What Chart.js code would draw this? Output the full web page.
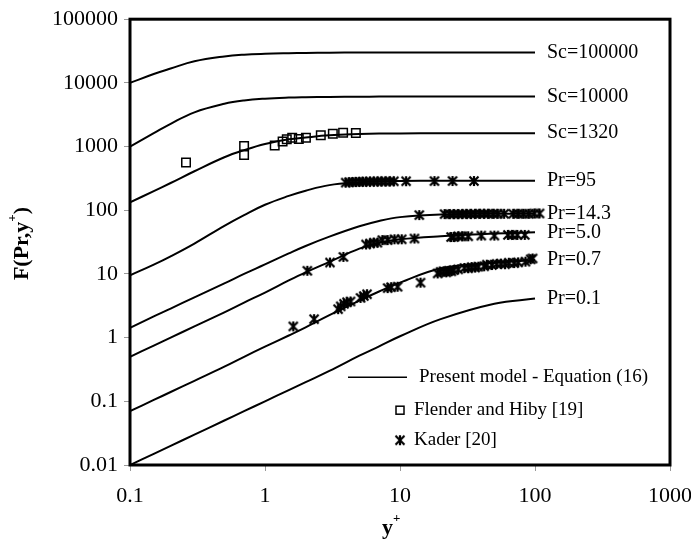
<!DOCTYPE html>
<html>
<head>
<meta charset="utf-8">
<script src="https://cdn.jsdelivr.net/npm/chart.js@4.4.1/dist/chart.umd.min.js"></script>
<style>
  body { margin: 0; background: #fff; }
  #wrap { width: 691px; height: 550px; }
</style>
</head>
<body>
<div id="wrap"><canvas id="fChart"></canvas></div>
<script>
// model curves at these y+ values
const modelX = [0.1, 0.15, 0.2, 0.3, 0.5, 0.7, 1, 1.5, 2, 3, 5, 7, 10, 20, 50, 100];
const curveLabels = ['Sc=100000', 'Sc=10000', 'Sc=1320', 'Pr=95', 'Pr=14.3', 'Pr=5.0', 'Pr=0.7', 'Pr=0.1'];
const sc100000 = [10000, 13800, 16800, 21800, 26000, 27700, 28600, 29200, 29500, 29800, 30000, 30000, 30000, 30000, 30000, 30000];
const sc10000 = [1000, 1620, 2280, 3450, 4700, 5300, 5650, 5870, 5950, 6020, 6070, 6090, 6100, 6100, 6100, 6100];
const sc1320 = [133, 200, 268, 410, 680, 880, 1100, 1300, 1390, 1500, 1570, 1600, 1610, 1620, 1620, 1620];
const pr95 = [9.5, 14, 18.9, 30, 57, 84, 122, 168, 203, 248, 275, 285, 288, 290, 290, 290];
const pr14 = [1.43, 2.15, 2.85, 4.3, 7.1, 10, 14.1, 21, 27.5, 38.5, 56, 68, 78, 86, 88, 88];
const pr5 = [0.5, 0.75, 1.0, 1.5, 2.5, 3.55, 5.1, 7.9, 10.6, 15.5, 25, 31, 35, 39, 43, 45];
const pr07 = [0.07, 0.105, 0.14, 0.21, 0.35, 0.5, 0.72, 1.08, 1.45, 2.25, 3.8, 5.3, 7.3, 12.2, 15, 16.5];
const pr01 = [0.01, 0.015, 0.02, 0.03, 0.05, 0.07, 0.1, 0.15, 0.2, 0.3, 0.52, 0.73, 1.05, 1.95, 3.4, 4.1];
const curveValues = [sc100000, sc10000, sc1320, pr95, pr14, pr5, pr07, pr01];

// Flender and Hiby [19]
const flenderX = [0.26, 0.70, 0.70, 1.18, 1.35, 1.45, 1.59, 1.78, 2.01, 2.59, 3.18, 3.79, 4.71];
const flenderY = [560, 1020, 740, 1040, 1200, 1300, 1380, 1320, 1380, 1510, 1590, 1650, 1630];

// Kader [20]
const kaderX = [
  3.96, 4.2, 4.45, 4.7, 5.0, 5.3, 5.6, 6.0, 6.4, 6.8, 7.3, 7.8, 8.4, 9.0, 11.1, 18, 24.5, 35.3,
  13.9, 21.4, 23.3, 25, 27, 29, 31, 33.5, 36, 39, 42, 45, 49, 53, 59, 69, 75, 82, 90, 99, 108,
  2.06, 3.03, 3.81, 5.6, 6.0, 6.4, 6.8, 7.4, 8.1, 9.1, 10.3, 12.8, 23.9, 25, 27, 29, 32, 40, 50, 63, 68, 74, 84,
  1.62, 2.31, 3.48, 3.64, 3.85, 4.05, 4.3, 5.1, 5.4, 5.7, 8.1, 8.6, 9.6, 14.2, 19, 20, 21, 22, 23, 24, 25,
  27, 30, 32, 34, 36, 38, 42, 44, 48, 52, 56, 60, 64, 70, 75, 85, 93, 96
];
const kaderY = [
  272, 275, 277, 278, 280, 280, 281, 282, 282, 283, 283, 284, 284, 285, 286, 287, 288, 288,
  84, 87, 87, 87, 87, 87, 88, 87, 88, 88, 88, 88, 88, 88, 88, 88, 88, 88, 88, 89, 89,
  11.2, 15.1, 18.5, 29, 30, 31, 31, 34, 34, 35, 35, 36, 38, 38, 39, 39, 39, 40, 40, 41, 41, 41, 41,
  1.5, 1.95, 2.8, 3.1, 3.4, 3.6, 3.7, 4.2, 4.5, 4.8, 6.0, 6.2, 6.3, 7.3, 10.2, 10.8, 11, 10.6, 11.2, 11, 11.5,
  11.8, 12.4, 12.3, 12.8, 12.6, 13, 13.2, 14, 13.8, 14.4, 14.5, 14.2, 15, 14.8, 15.2, 15.6, 17, 17.5
];

const xTicks = [0.1, 1, 10, 100, 1000];
const yTicks = [0.01, 0.1, 1, 10, 100, 1000, 10000, 100000];

const SERIF = "'Liberation Serif', 'Times New Roman', serif";

function makeStar(size) {
  const c = document.createElement('canvas');
  c.width = size;
  c.height = size;
  const g = c.getContext('2d');
  const a = 1.5, b = size - 1.5, m = size / 2;
  g.strokeStyle = '#000';
  g.lineWidth = 2.2;
  g.beginPath();
  g.moveTo(a, a); g.lineTo(b, b);
  g.moveTo(b, a); g.lineTo(a, b);
  g.moveTo(m, a - 0.5); g.lineTo(m, b + 0.5);
  g.stroke();
  return c;
}
const starMark = makeStar(12);

const curveSets = curveValues.map((vals, k) => ({
  label: curveLabels[k],
  isCurve: true,
  data: modelX.map((x, i) => ({ x: x, y: vals[i] })),
  showLine: true,
  borderColor: '#000',
  borderWidth: 2,
  pointRadius: 0,
  tension: 0.4
}));

const frameAndText = {
  id: 'frameAndText',
  afterDraw(chart) {
    const ctx = chart.ctx;
    const area = chart.chartArea;
    ctx.save();
    // frame
    ctx.strokeStyle = '#000';
    ctx.lineWidth = 3;
    ctx.strokeRect(area.left, area.top, area.right - area.left, area.bottom - area.top);

    // curve labels at the end of each line
    ctx.fillStyle = '#000';
    ctx.font = '20px ' + SERIF;
    ctx.textAlign = 'left';
    ctx.textBaseline = 'middle';
    chart.data.datasets.forEach((ds, i) => {
      if (!ds.isCurve) return;
      const pts = chart.getDatasetMeta(i).data;
      const last = pts[pts.length - 1];
      ctx.fillText(ds.label, last.x + 12, last.y);
    });

    // legend
    const lx = area.left + 218;
    ctx.font = '19px ' + SERIF;
    ctx.lineWidth = 1.5;
    ctx.beginPath();
    ctx.moveTo(lx, area.top + 358);
    ctx.lineTo(lx + 59, area.top + 358);
    ctx.stroke();
    ctx.fillText('Present model - Equation (16)', lx + 71, area.top + 358);
    ctx.lineWidth = 1.5;
    ctx.strokeRect(lx + 48, area.top + 387, 8, 8);
    ctx.fillText('Flender and Hiby [19]', lx + 66, area.top + 391);
    ctx.drawImage(starMark, lx + 46, area.top + 415);
    ctx.fillText('Kader [20]', lx + 66, area.top + 421);

    // axis titles
    ctx.font = 'bold 22px ' + SERIF;
    ctx.textBaseline = 'alphabetic';
    const cx = (area.left + area.right) / 2 - 18;
    ctx.fillText('y', cx, 534);
    ctx.font = 'bold 13px ' + SERIF;
    ctx.fillText('+', cx + 11, 522);

    ctx.translate(28, (area.top + area.bottom) / 2 + 38);
    ctx.rotate(-Math.PI / 2);
    ctx.font = 'bold 22px ' + SERIF;
    let t = 'F(Pr,y';
    ctx.fillText(t, 0, 0);
    let w = ctx.measureText(t).width;
    ctx.font = 'bold 13px ' + SERIF;
    ctx.fillText('+', w, -12);
    w += ctx.measureText('+').width;
    ctx.font = 'bold 22px ' + SERIF;
    ctx.fillText(')', w, 0);
    ctx.restore();
  }
};

new Chart(document.getElementById('fChart'), {
  type: 'scatter',
  data: {
    datasets: [
      {
        label: 'Flender and Hiby [19]',
        data: flenderX.map((x, i) => ({ x: x, y: flenderY[i] })),
        pointStyle: 'rect',
        pointRadius: 6,
        borderColor: '#000',
        borderWidth: 1.5,
        backgroundColor: 'rgba(0,0,0,0)'
      },
      {
        label: 'Kader [20]',
        data: kaderX.map((x, i) => ({ x: x, y: kaderY[i] })),
        pointStyle: starMark,
        pointRadius: 6
      },
      ...curveSets
    ]
  },
  options: {
    responsive: true,
    maintainAspectRatio: false,
    animation: false,
    layout: {
      padding: { top: 17, right: 21, left: 0, bottom: 0 }
    },
    plugins: {
      legend: { display: false },
      tooltip: { enabled: false }
    },
    scales: {
      x: {
        type: 'logarithmic',
        min: 0.1,
        max: 1000,
        afterBuildTicks: (scale) => { scale.ticks = xTicks.map(v => ({ value: v })); },
        afterFit: (scale) => {
          scale.height = 85;
          scale.paddingLeft = 0;
          scale.paddingRight = 0;
        },
        border: { display: false },
        grid: { display: true, drawOnChartArea: false, tickLength: 6, color: '#999' },
        ticks: {
          color: '#000',
          padding: 12,
          maxRotation: 0,
          font: { family: SERIF, size: 22 },
          callback: (v) => String(v)
        }
      },
      y: {
        type: 'logarithmic',
        min: 0.01,
        max: 100000,
        afterBuildTicks: (scale) => { scale.ticks = yTicks.map(v => ({ value: v })); },
        afterFit: (scale) => { scale.width = 130; },
        border: { display: false },
        grid: { display: true, drawOnChartArea: false, tickLength: 6, color: '#999' },
        ticks: {
          color: '#000',
          padding: 6,
          font: { family: SERIF, size: 22 },
          callback: (v) => String(v)
        }
      }
    }
  },
  plugins: [frameAndText]
});
</script>
</body>
</html>
